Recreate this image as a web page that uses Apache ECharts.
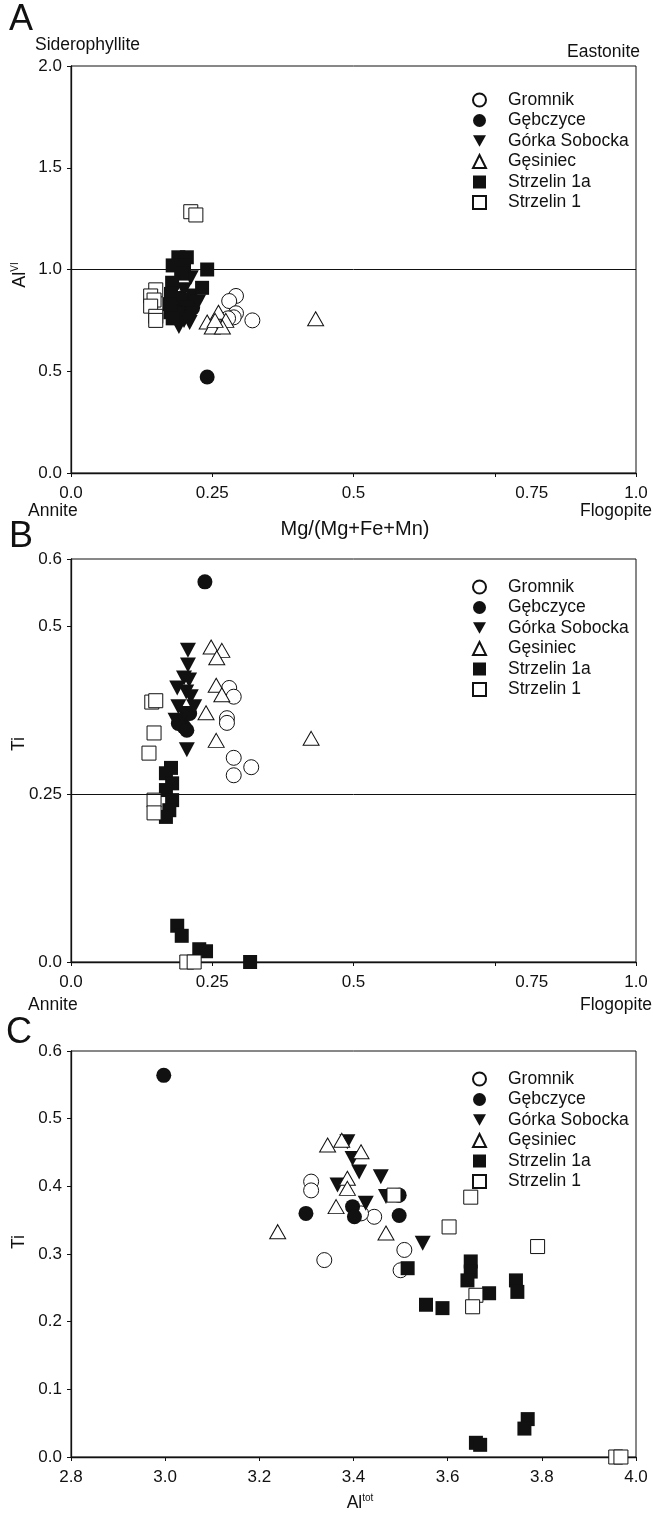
<!DOCTYPE html>
<html>
<head>
<meta charset="utf-8">
<script src="https://cdn.jsdelivr.net/npm/echarts@6/dist/echarts.min.js"></script>
<style>
  html, body { margin: 0; padding: 0; background: #fff; }
  #chart { width: 653px; height: 1521px; }
</style>
</head>
<body>
<div id="chart"></div>
<script>
// series names
const names = ['Gromnik', 'Gębczyce', 'Górka Sobocka', 'Gęsiniec', 'Strzelin 1a', 'Strzelin 1'];

// panel A: Mg/(Mg+Fe+Mn) vs AlVI
const aGromnik = [[0.292, 0.87], [0.28, 0.845], [0.292, 0.785], [0.288, 0.765], [0.321, 0.75], [0.278, 0.76]];
const aGebczyce = [[0.241, 0.472], [0.2, 0.82], [0.205, 0.79], [0.21, 0.84], [0.19, 0.8], [0.195, 0.86], [0.215, 0.81]];
const aGorka = [[0.212, 0.96], [0.2, 0.9], [0.215, 0.87], [0.195, 0.85], [0.225, 0.84], [0.205, 0.81],
  [0.19, 0.78], [0.215, 0.78], [0.2, 0.75], [0.21, 0.74], [0.191, 0.72]];
const aGesiniec = [[0.261, 0.79], [0.274, 0.75], [0.241, 0.742], [0.25, 0.717], [0.268, 0.717], [0.255, 0.75], [0.433, 0.758]];
const aStrzelin1a = [[0.19, 1.06], [0.205, 1.06], [0.18, 1.02], [0.2, 1.02], [0.195, 0.98], [0.241, 1.0],
  [0.232, 0.91], [0.179, 0.935], [0.177, 0.88], [0.174, 0.83], [0.176, 0.79], [0.18, 0.76]];
const aStrzelin1 = [[0.212, 1.284], [0.221, 1.268], [0.15, 0.9], [0.141, 0.87], [0.147, 0.85], [0.141, 0.82], [0.15, 0.77], [0.15, 0.75]];

// panel B: Mg/(Mg+Fe+Mn) vs Ti
const bGromnik = [[0.28, 0.408], [0.288, 0.395], [0.276, 0.363], [0.276, 0.356], [0.288, 0.304], [0.319, 0.29], [0.288, 0.278]];
const bGebczyce = [[0.237, 0.566], [0.195, 0.36], [0.2, 0.35], [0.21, 0.37], [0.19, 0.355], [0.205, 0.345]];
const bGorka = [[0.207, 0.464], [0.207, 0.442], [0.2, 0.423], [0.209, 0.42], [0.188, 0.408], [0.204, 0.402],
  [0.212, 0.395], [0.218, 0.38], [0.19, 0.38], [0.2, 0.37], [0.185, 0.36], [0.205, 0.316]];
const bGesiniec = [[0.248, 0.469], [0.267, 0.464], [0.258, 0.453], [0.257, 0.412], [0.267, 0.398], [0.239, 0.371], [0.257, 0.33], [0.425, 0.333]];
const bStrzelin1a = [[0.177, 0.289], [0.168, 0.281], [0.179, 0.266], [0.168, 0.256], [0.179, 0.241], [0.174, 0.226], [0.168, 0.216],
  [0.188, 0.054], [0.196, 0.039], [0.227, 0.019], [0.239, 0.016], [0.317, 0.0]];
const bStrzelin1 = [[0.143, 0.387], [0.15, 0.389], [0.147, 0.341], [0.138, 0.311], [0.147, 0.241], [0.147, 0.222], [0.205, 0.0], [0.218, 0.0]];

// panel C: Al tot vs Ti
const cGromnik = [[3.31, 0.407], [3.31, 0.394], [3.338, 0.291], [3.444, 0.355], [3.416, 0.36], [3.508, 0.306], [3.5, 0.276]];
const cGebczyce = [[2.997, 0.564], [3.299, 0.36], [3.398, 0.37], [3.402, 0.355], [3.497, 0.357], [3.497, 0.387]];
const cGorka = [[3.387, 0.466], [3.398, 0.441], [3.412, 0.421], [3.458, 0.414], [3.366, 0.402], [3.469, 0.385], [3.426, 0.375], [3.547, 0.316]];
const cGesiniec = [[3.345, 0.461], [3.375, 0.468], [3.416, 0.451], [3.387, 0.412], [3.387, 0.397], [3.363, 0.37], [3.239, 0.333], [3.469, 0.331]];
const cStrzelin1a = [[3.515, 0.279], [3.554, 0.225], [3.589, 0.22], [3.649, 0.289], [3.649, 0.274], [3.642, 0.261], [3.688, 0.242],
  [3.745, 0.261], [3.748, 0.244], [3.77, 0.056], [3.763, 0.042], [3.66, 0.021], [3.669, 0.018]];
const cStrzelin1 = [[3.486, 0.387], [3.603, 0.34], [3.649, 0.384], [3.791, 0.311], [3.66, 0.239], [3.653, 0.222], [3.957, 0.0], [3.968, 0.0]];

const font = '"Liberation Sans", Arial, Helvetica, sans-serif';
const ink = '#111';
const downTri = 'path://M0,0 L10,0 L5,9 Z';

const styles = [
  { symbol: 'circle', symbolSize: 15, itemStyle: { color: '#fff', borderColor: ink, borderWidth: 1, opacity: 1 } },
  { symbol: 'circle', symbolSize: 15, itemStyle: { color: ink, opacity: 1 } },
  { symbol: downTri, symbolSize: [16, 15], itemStyle: { color: ink, opacity: 1 } },
  { symbol: 'triangle', symbolSize: [16, 14], itemStyle: { color: '#fff', borderColor: ink, borderWidth: 1, opacity: 1 } },
  { symbol: 'rect', symbolSize: 14, itemStyle: { color: ink, opacity: 1 } },
  { symbol: 'rect', symbolSize: 14, itemStyle: { color: '#fff', borderColor: ink, borderWidth: 1, opacity: 1 } }
];

function panelSeries(sets, idx, refLine) {
  return sets.map((d, i) => {
    const s = Object.assign({
      name: names[i],
      type: 'scatter',
      xAxisIndex: idx,
      yAxisIndex: idx,
      data: d,
      emphasis: { disabled: true }
    }, styles[i]);
    if (i === 0 && refLine != null) {
      s.markLine = {
        silent: true,
        symbol: 'none',
        label: { show: false },
        lineStyle: { color: ink, type: 'solid', width: 1, opacity: 1 },
        data: [{ yAxis: refLine }]
      };
    }
    return s;
  });
}

const grids = [
  { left: 71, right: 17, top: 66, height: 407 },
  { left: 71, right: 17, top: 559, height: 403 },
  { left: 71, right: 17, top: 1051, height: 406 }
].map(g => Object.assign(g, { show: true, borderColor: ink, borderWidth: 1, backgroundColor: 'transparent' }));

const axisCommon = {
  axisLine: { lineStyle: { color: ink, width: 1.3 } },
  axisTick: { show: true, length: 4, lineStyle: { color: ink } },
  splitLine: { show: false },
  axisLabel: { color: ink, fontSize: 17, fontFamily: font }
};

function mgAxis(idx) {
  return Object.assign({}, axisCommon, {
    gridIndex: idx, type: 'value', min: 0, max: 1, interval: 0.25,
    axisLabel: Object.assign({}, axisCommon.axisLabel, {
      margin: 12,
      formatter: v => v === 0 ? '0.0' : v === 1 ? '1.0' : v === 0.75 ? '{s|0.75}' : String(v),
      rich: { s: { fontSize: 17, fontFamily: font, color: ink, padding: [0, 0, 0, 74] } }
    })
  });
}

const option = {
  animation: false,
  textStyle: { fontFamily: font },
  grid: grids,
  xAxis: [
    mgAxis(0),
    mgAxis(1),
    Object.assign({}, axisCommon, {
      gridIndex: 2, type: 'value', min: 2.8, max: 4.0, interval: 0.2,
      axisLabel: Object.assign({}, axisCommon.axisLabel, { margin: 12, formatter: v => v.toFixed(1) })
    })
  ],
  yAxis: [
    Object.assign({}, axisCommon, {
      gridIndex: 0, type: 'value', min: 0, max: 2, interval: 0.5,
      axisLabel: Object.assign({}, axisCommon.axisLabel, { margin: 9, formatter: v => v.toFixed(1) })
    }),
    Object.assign({}, axisCommon, {
      gridIndex: 1, type: 'value', min: 0, max: 0.6, interval: 0.25,
      axisLabel: Object.assign({}, axisCommon.axisLabel, { margin: 9, formatter: v => v === 0 ? '0.0' : String(v) })
    }),
    Object.assign({}, axisCommon, {
      gridIndex: 2, type: 'value', min: 0, max: 0.6, interval: 0.1,
      axisLabel: Object.assign({}, axisCommon.axisLabel, { margin: 9, formatter: v => v.toFixed(1) })
    })
  ],
  legend: [86, 573, 1065].map(top => ({
    orient: 'vertical',
    left: 467,
    top: top,
    itemWidth: 13,
    itemHeight: 13,
    itemGap: 2.5,
    data: names,
    selectedMode: false,
    textStyle: { fontSize: 17.5, fontFamily: font, color: ink, lineHeight: 17, padding: [0, 0, 0, 17] }
  })),
  graphic: [
    { type: 'text', x: 9, y: 20, style: { text: 'A', fontSize: 36, fontFamily: font, fill: ink, align: 'left', verticalAlign: 'middle' } },
    { type: 'text', x: 35, y: 45, style: { text: 'Siderophyllite', fontSize: 17.5, fontFamily: font, fill: ink, align: 'left', verticalAlign: 'middle' } },
    { type: 'text', x: 640, y: 52, style: { text: 'Eastonite', fontSize: 17.5, fontFamily: font, fill: ink, align: 'right', verticalAlign: 'middle' } },
    { type: 'text', x: 28, y: 511, style: { text: 'Annite', fontSize: 17.5, fontFamily: font, fill: ink, align: 'left', verticalAlign: 'middle' } },
    { type: 'text', x: 652, y: 511, style: { text: 'Flogopite', fontSize: 17.5, fontFamily: font, fill: ink, align: 'right', verticalAlign: 'middle' } },
    { type: 'text', x: 355, y: 529, style: { text: 'Mg/(Mg+Fe+Mn)', fontSize: 20, fontFamily: font, fill: ink, align: 'center', verticalAlign: 'middle' } },
    { type: 'text', x: 20, y: 275, rotation: Math.PI / 2, style: {
      text: '{a|Al}{b|VI}', fill: ink, align: 'center', verticalAlign: 'middle',
      rich: { a: { fontSize: 18, fontFamily: font, fill: ink, lineHeight: 20 }, b: { fontSize: 10, fontFamily: font, fill: ink, verticalAlign: 'top' } }
    } },
    { type: 'text', x: 9, y: 537, style: { text: 'B', fontSize: 36, fontFamily: font, fill: ink, align: 'left', verticalAlign: 'middle' } },
    { type: 'text', x: 19, y: 744, rotation: Math.PI / 2, style: { text: 'Ti', fontSize: 17.5, fontFamily: font, fill: ink, align: 'center', verticalAlign: 'middle' } },
    { type: 'text', x: 28, y: 1005, style: { text: 'Annite', fontSize: 17.5, fontFamily: font, fill: ink, align: 'left', verticalAlign: 'middle' } },
    { type: 'text', x: 652, y: 1005, style: { text: 'Flogopite', fontSize: 17.5, fontFamily: font, fill: ink, align: 'right', verticalAlign: 'middle' } },
    { type: 'text', x: 6, y: 1033, style: { text: 'C', fontSize: 36, fontFamily: font, fill: ink, align: 'left', verticalAlign: 'middle' } },
    { type: 'text', x: 19, y: 1242, rotation: Math.PI / 2, style: { text: 'Ti', fontSize: 17.5, fontFamily: font, fill: ink, align: 'center', verticalAlign: 'middle' } },
    { type: 'text', x: 360, y: 1503, style: {
      text: '{a|Al}{b|tot}', fill: ink, align: 'center', verticalAlign: 'middle',
      rich: { a: { fontSize: 17.5, fontFamily: font, fill: ink, lineHeight: 20 }, b: { fontSize: 10, fontFamily: font, fill: ink, verticalAlign: 'top' } }
    } }
  ],
  series: [].concat(
    panelSeries([aGromnik, aGebczyce, aGorka, aGesiniec, aStrzelin1a, aStrzelin1], 0, 1.0),
    panelSeries([bGromnik, bGebczyce, bGorka, bGesiniec, bStrzelin1a, bStrzelin1], 1, 0.25),
    panelSeries([cGromnik, cGebczyce, cGorka, cGesiniec, cStrzelin1a, cStrzelin1], 2, null)
  )
};

const chart = echarts.init(document.getElementById('chart'), null, { renderer: 'canvas' });
chart.setOption(option);
</script>
</body>
</html>
